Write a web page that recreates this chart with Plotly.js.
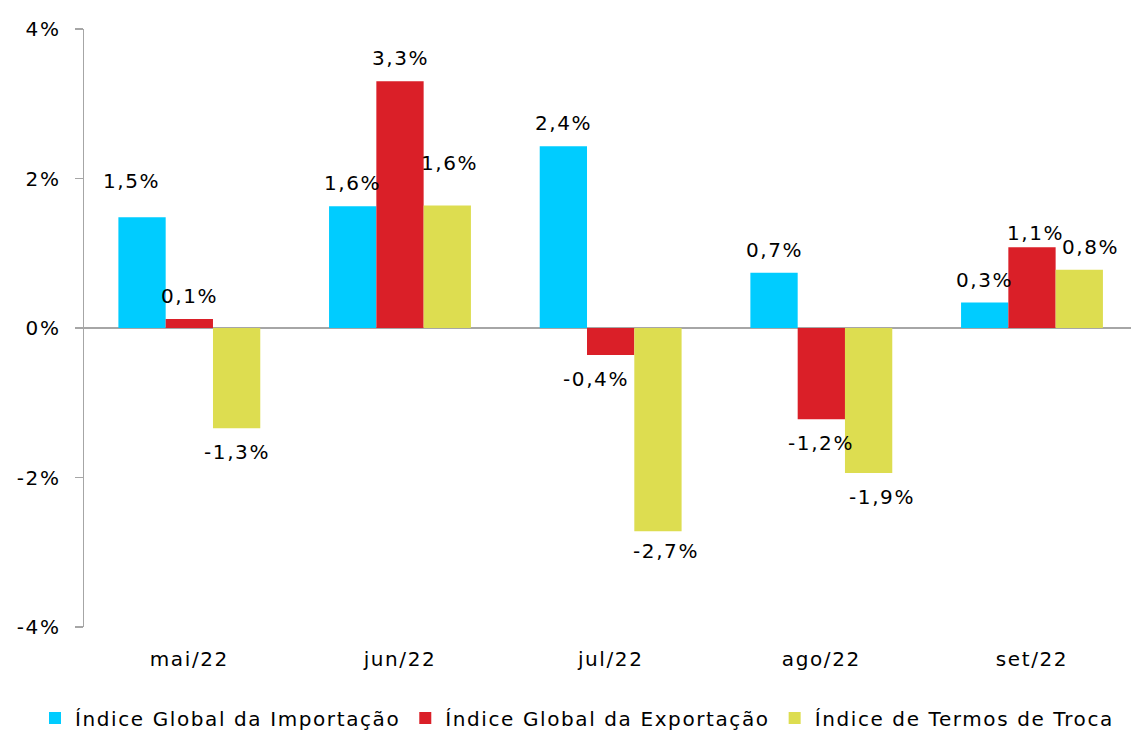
<!DOCTYPE html>
<html>
<head>
<meta charset="utf-8">
<script src="https://cdn.plot.ly/plotly-3.0.1.min.js"></script>
<style>
  html, body { margin: 0; padding: 0; background: #fff; }
  #chart { width: 1131px; height: 731px; }
  svg text { letter-spacing: 1.6px; }
</style>
</head>
<body>
<div id="chart"></div>
<script>
// ---- data ----
const categories = ['mai/22', 'jun/22', 'jul/22', 'ago/22', 'set/22'];
const seriesNames = ['Índice Global da Importação', 'Índice Global da Exportação', 'Índice de Termos de Troca'];
const importacao = [1.48, 1.63, 2.43, 0.74, 0.34];
const exportacao = [0.12, 3.30, -0.36, -1.22, 1.08];
const termosTroca = [-1.34, 1.64, -2.72, -1.94, 0.78];
const yTickVals = [-4, -2, 0, 2, 4];
const yTickText = ['-4%', '-2%', '0%', '2%', '4%'];

// ---- styling ----
const colors = ['#00CCFF', '#DA1F28', '#DDDD50'];
const FONT = 'DejaVu Sans, Liberation Sans, Arial, sans-serif';
const FS = 20;
const bargap = 0.3265;
const barW = (1 - bargap) / 3;
// small manual nudges of label placement (px) keyed "series-category"
const nudge = {
  '0-0': [-11, 13], '2-1': [2, 19], '1-4': [4, -9], '2-4': [11, 0],
  '1-2': [-15, 0], '2-2': [8, 4], '2-3': [13, 0]
};

const seriesVals = [importacao, exportacao, termosTroca];
const traces = seriesVals.map((vals, k) => ({
  type: 'bar',
  name: seriesNames[k],
  x: categories,
  y: vals,
  marker: { color: colors[k], line: { width: 0 } },
  hoverinfo: 'skip'
}));

const fmt = v => v.toFixed(1).replace('.', ',') + '%';
const annotations = [];
seriesVals.forEach((vals, k) => {
  vals.forEach((v, i) => {
    const n = nudge[k + '-' + i] || [0, 0];
    annotations.push({
      xref: 'x', yref: 'y',
      x: i + (k - 1) * barW,
      y: v,
      text: fmt(v),
      showarrow: false,
      xanchor: 'center', yanchor: 'middle',
      xshift: n[0],
      yshift: (v >= 0 ? 23 : -24) + n[1],
      font: { family: FONT, size: FS, color: '#000' }
    });
  });
});

const layout = {
  width: 1131, height: 731,
  margin: { l: 84, r: 0, t: 29, b: 104, autoexpand: false },
  paper_bgcolor: '#fff', plot_bgcolor: '#fff',
  font: { family: FONT, size: FS, color: '#000' },
  barmode: 'group',
  bargap: bargap,
  bargroupgap: 0,
  showlegend: true,
  legend: {
    orientation: 'h',
    xref: 'paper', yref: 'paper',
    x: -0.0468, xanchor: 'left',
    y: -0.152, yanchor: 'middle',
    itemwidth: 30,
    font: { family: FONT, size: FS, color: '#000' },
    bgcolor: 'rgba(0,0,0,0)',
    traceorder: 'normal'
  },
  xaxis: {
    type: 'category',
    range: [-0.5, 4.47],
    showline: false, showgrid: false, zeroline: false,
    ticks: '',
    ticklabelstandoff: 18,
    tickfont: { family: FONT, size: FS, color: '#000' },
    fixedrange: true
  },
  yaxis: {
    range: [-4, 4],
    tickvals: yTickVals,
    ticktext: yTickText,
    showgrid: false,
    showline: true, linecolor: '#A6A6A6', linewidth: 1.5,
    ticks: 'outside', ticklen: 8, tickcolor: '#A6A6A6', tickwidth: 1.5,
    ticklabelstandoff: 10,
    zeroline: true, zerolinecolor: '#A6A6A6', zerolinewidth: 2,
    tickfont: { family: FONT, size: FS, color: '#000' },
    fixedrange: true
  },
  annotations: annotations
};

Plotly.newPlot('chart', traces, layout, { displayModeBar: false, staticPlot: true });
</script>
</body>
</html>
